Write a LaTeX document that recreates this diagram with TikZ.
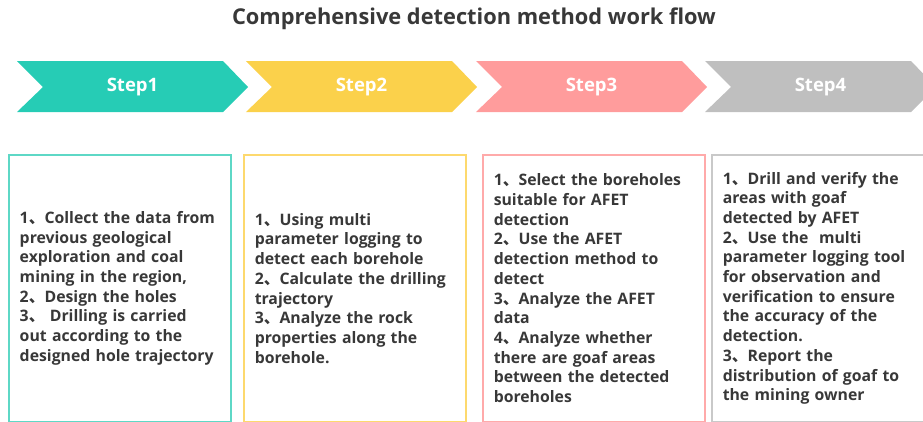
\documentclass[tikz,border=0pt]{standalone}
\usepackage{fontspec}
\setmainfont{Open Sans}
\newfontfamily\cjk{Noto Sans CJK SC}
\newcommand{\dun}{{\cjk 、}}
\definecolor{tealfill}{HTML}{26CCB5}
\definecolor{yellowfill}{HTML}{FBD14B}
\definecolor{pinkfill}{HTML}{FF9C9C}
\definecolor{grayfill}{HTML}{BFBFBF}
\definecolor{tealline}{HTML}{5ED8C6}
\definecolor{yellowline}{HTML}{FDD96E}
\definecolor{pinkline}{HTML}{FFAAAA}
\definecolor{grayline}{HTML}{C9C9C9}
\definecolor{textgray}{HTML}{383838}
\tikzset{
  steplabel/.style={font=\bfseries\fontsize{18.5}{22}\selectfont, text=white},
  taskbox/.style={draw=#1, line width=1.5, anchor=north west, align=left,
    text width=200, inner xsep=11, minimum height=267, text=textgray,
    font=\bfseries\fontsize{15.8}{19.7}\selectfont}
}
\begin{document}
\begin{tikzpicture}[x=1pt,y=-1pt]
  \useasboundingbox (0,0) rectangle (923,421);
  \node[font=\bfseries\fontsize{21.8}{26}\selectfont, text=textgray] (title) at (474,19)
    {Comprehensive detection method work flow};
  % chevrons
  \foreach \i/\x/\col in {1/17/tealfill, 2/246/yellowfill, 3/476/pinkfill, 4/705/grayfill} {
    \fill[\col] (\x,61) -- (\x+206,61) -- (\x+231,87) -- (\x+206,112)
      -- (\x,112) -- (\x+26,87) -- cycle;
    \node[steplabel] (step\i) at (\x+115.5,87) {Step\i};
  }
  % boxes
  \node[taskbox=tealline] (box1) at (8,154) {%
    1\dun Collect the data from\\ previous geological\\ exploration and coal\\
    mining in the region,\\ 2\dun Design the holes\\ 3\dun~Drilling is carried\\
    out according to the\\ designed hole trajectory};
  \node[taskbox=yellowline] (box2) at (243,154) {%
    1\dun Using multi\\ parameter logging to\\ detect each borehole\\
    2\dun Calculate the drilling\\ trajectory\\ 3\dun Analyze the rock\\
    properties along the\\ borehole.};
  \node[taskbox=pinkline] (box3) at (482,154) {%
    1\dun Select the boreholes\\ suitable for AFET\\ detection\\
    2\dun Use the AFET\\ detection method to\\ detect\\
    3\dun Analyze the AFET\\ data\\ 4\dun Analyze whether\\
    there are goaf areas\\ between the detected\\ boreholes};
  \node[taskbox=grayline] (box4) at (711,154) {%
    1\dun Drill and verify the\\ areas with goaf\\ detected by AFET\\
    2\dun Use the~ multi\\ parameter logging tool\\ for observation and\\
    verification to ensure\\ the accuracy of the\\ detection.\\
    3\dun Report the\\ distribution of goaf to\\ the mining owner};
\end{tikzpicture}
\end{document}
